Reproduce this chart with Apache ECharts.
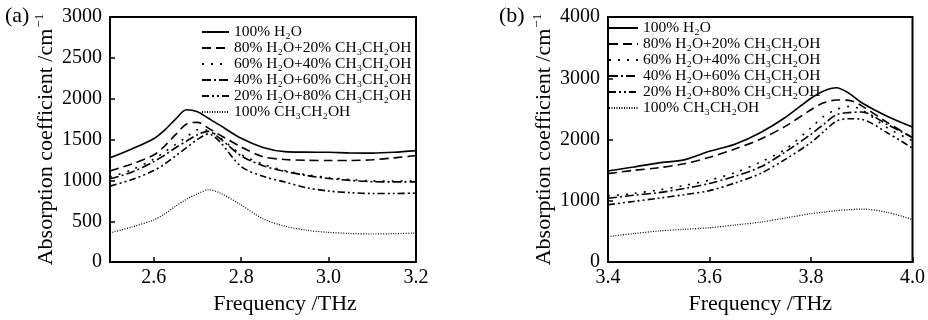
<!DOCTYPE html>
<html>
<head>
<meta charset="utf-8">
<script src="https://cdn.jsdelivr.net/npm/echarts@6/dist/echarts.min.js"></script>
<style>
html,body{margin:0;padding:0;background:#fff;}
#c{width:928px;height:320px;}
</style>
</head>
<body>
<div id="c"></div>
<script>
// ---------- Data ----------
const seriesNames = [
  '100% H₂O',
  '80% H₂O+20% CH₃CH₂OH',
  '60% H₂O+40% CH₃CH₂OH',
  '40% H₂O+60% CH₃CH₂OH',
  '20% H₂O+80% CH₃CH₂OH',
  '100% CH₃CH₂OH'
];

// Panel (a): 2.5 - 3.2 THz
const freqA = [2.5, 2.55, 2.6, 2.625, 2.65, 2.675, 2.7, 2.725, 2.75, 2.8, 2.85, 2.9, 2.95, 3.0, 3.05, 3.1, 3.15, 3.2];
const a_h2o   = [1276, 1385, 1510, 1615, 1750, 1864, 1840, 1760, 1680, 1515, 1404, 1352, 1346, 1344, 1336, 1334, 1344, 1364];
const a_e20   = [1116, 1200, 1310, 1420, 1560, 1690, 1710, 1640, 1560, 1410, 1290, 1256, 1246, 1244, 1244, 1252, 1276, 1304];
const a_e40   = [1040, 1130, 1260, 1350, 1440, 1530, 1620, 1610, 1530, 1320, 1200, 1120, 1070, 1035, 1010, 995, 992, 992];
const a_e60   = [1020, 1100, 1230, 1310, 1400, 1480, 1560, 1600, 1520, 1300, 1180, 1110, 1060, 1024, 1000, 984, 982, 982];
const a_e80   = [930, 1010, 1120, 1200, 1300, 1400, 1500, 1570, 1480, 1170, 1050, 980, 910, 870, 850, 840, 840, 844];
const a_eth   = [356, 430, 516, 590, 684, 770, 836, 884, 850, 700, 530, 440, 390, 364, 350, 344, 348, 356];

// Panel (b): 3.4 - 4.0 THz
const freqB = [3.4, 3.45, 3.5, 3.55, 3.6, 3.65, 3.7, 3.75, 3.8, 3.825, 3.85, 3.875, 3.9, 3.95, 4.0];
const b_h2o   = [1487, 1551, 1620, 1668, 1808, 1925, 2112, 2364, 2674, 2792, 2845, 2754, 2600, 2380, 2203];
const b_e20   = [1444, 1497, 1540, 1604, 1711, 1845, 2005, 2219, 2487, 2600, 2645, 2640, 2550, 2280, 2032];
const b_e40   = [1080, 1120, 1177, 1250, 1337, 1460, 1631, 1845, 2193, 2380, 2487, 2540, 2487, 2193, 1980];
const b_e60   = [1043, 1090, 1134, 1200, 1284, 1400, 1551, 1800, 2086, 2250, 2406, 2440, 2449, 2246, 2032];
const b_e80   = [936, 990, 1043, 1100, 1166, 1290, 1444, 1680, 1952, 2130, 2300, 2340, 2330, 2112, 1860];
const b_eth   = [417, 465, 508, 535, 561, 605, 652, 720, 791, 815, 840, 855, 866, 813, 695];

const xTicksA = [2.6, 2.8, 3.0, 3.2];
const xTicksB = [3.4, 3.6, 3.8, 4.0];

// ---------- Styles ----------
const FONT = 'Liberation Serif';
const lineTypes = [
  {type: 'solid', width: 1.6},
  {type: [9, 5], width: 1.6},
  {type: [2, 7], width: 1.6},
  {type: [9, 3, 2, 3], width: 1.6},
  {type: [7, 3, 2, 3, 2, 3], width: 1.6},
  {type: [1, 1.5], width: 1.2}
];

function zip(xs, ys) { return xs.map((x, i) => [x, ys[i]]); }

const dataA = [a_h2o, a_e20, a_e40, a_e60, a_e80, a_eth];
const dataB = [b_h2o, b_e20, b_e40, b_e60, b_e80, b_eth];

function makeSeries(arrs, xs, idx) {
  return arrs.map((ys, i) => ({
    name: seriesNames[i],
    type: 'line',
    xAxisIndex: idx, yAxisIndex: idx,
    data: zip(xs, ys),
    symbol: 'none',
    smooth: 0.3,
    color: '#000',
    lineStyle: {color: '#000', type: lineTypes[i].type, width: lineTypes[i].width},
    z: 3
  }));
}

function xAxisDef(idx, min, max, ticks) {
  return {
    type: 'value', gridIndex: idx, min: min, max: max,
    axisLine: {show: true, lineStyle: {color: '#000', width: 2}},
    axisTick: {show: true, inside: true, length: 5, lineStyle: {color: '#000', width: 1.5}, customValues: ticks},
    axisLabel: {color: '#000', fontFamily: FONT, fontSize: 20, margin: 6, customValues: ticks,
                formatter: v => Number(v).toFixed(1)},
    splitLine: {show: false},
    name: 'Frequency /THz', nameLocation: 'middle', nameGap: 25,
    nameTextStyle: {color: '#000', fontFamily: FONT, fontSize: 22,
                    padding: idx === 0 ? [0, 0, 0, 44] : [0, 0, 0, 0]}
  };
}

function yAxisDef(idx, max, interval) {
  return {
    type: 'value', gridIndex: idx, min: 0, max: max, interval: interval,
    axisLine: {show: true, lineStyle: {color: '#000', width: 2}},
    axisTick: {show: true, inside: true, length: 5, lineStyle: {color: '#000', width: 1.5}},
    axisLabel: {color: '#000', fontFamily: FONT, fontSize: 20, margin: 8, formatter: v => String(v)},
    splitLine: {show: false},
    name: '{m|Absorption coefficient /cm}{s|−1}',
    nameLocation: 'middle', nameGap: 53,
    nameTextStyle: {
      color: '#000', fontFamily: FONT, fontSize: 22,
      rich: {
        m: {fontFamily: FONT, fontSize: 22, color: '#000', lineHeight: 24, verticalAlign: 'bottom'},
        s: {fontFamily: FONT, fontSize: 13, color: '#000', lineHeight: 24, verticalAlign: 'top', padding: [0, 0, 8, 1]}
      }
    }
  };
}

function legendDef(idx, left, top, itemWidth) {
  return {
    show: true,
    data: seriesNames,
    orient: 'vertical',
    left: left, top: top,
    padding: 0,
    itemGap: 0,
    itemWidth: itemWidth, itemHeight: 16,
    align: 'left',
    selectedMode: false,
    itemStyle: {opacity: 0},
    lineStyle: {color: '#000'},
    textStyle: {color: '#000', fontFamily: FONT, fontSize: 15.5, lineHeight: 16},
    id: 'leg' + idx
  };
}

const option = {
  animation: false,
  backgroundColor: '#fff',
  grid: [
    {left: 110, top: 17, width: 306, height: 250, show: true, borderColor: '#000', borderWidth: 2},
    {left: 608, top: 17, width: 308, height: 250, show: true, borderColor: '#000', borderWidth: 2}
  ],
  xAxis: [xAxisDef(0, 2.5, 3.2, xTicksA), xAxisDef(1, 3.4, 4.0, xTicksB)],
  yAxis: [yAxisDef(0, 3000, 500), yAxisDef(1, 4000, 1000)],
  legend: [legendDef(0, 201, 24, 27), legendDef(1, 608, 20, 29)],
  series: makeSeries(dataA, freqA, 0).concat(makeSeries(dataB, freqB, 1)),
  graphic: [
    {type: 'text', left: 5, top: 5, style: {text: '(a)', fontFamily: FONT, fontSize: 22, fill: '#000'}},
    {type: 'text', left: 499, top: 5, style: {text: '(b)', fontFamily: FONT, fontSize: 22, fill: '#000'}}
  ]
};

const chart = echarts.init(document.getElementById('c'), null, {renderer: 'canvas'});
chart.setOption(option);
</script>
</body>
</html>
